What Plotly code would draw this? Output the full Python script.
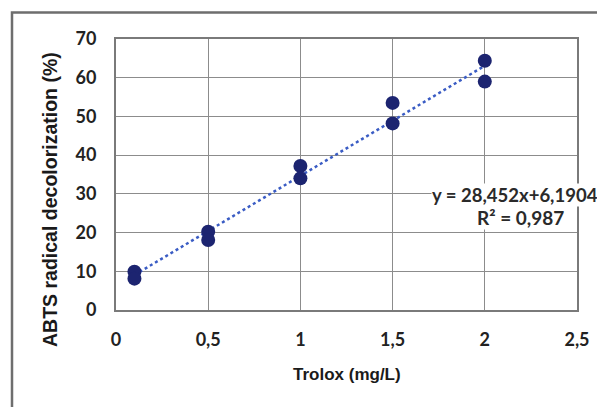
import plotly.graph_objects as go
import numpy as np

trolox = [0.1, 0.1, 0.5, 0.5, 1.0, 1.0, 1.5, 1.5, 2.0, 2.0]
decolor = [9.9, 8.1, 20.2, 18.1, 37.2, 34.0, 53.5, 48.2, 64.4, 59.0]
slope = 28.452
intercept = 6.1904
r2_text = "0,987"
x_ticks = [0, 0.5, 1, 1.5, 2, 2.5]
x_tick_text = ["0", "0,5", "1", "1,5", "2", "2,5"]
y_ticks = [0, 10, 20, 30, 40, 50, 60, 70]
x_title = "Trolox (mg/L)"
y_title = "ABTS radical decolorization (%)"

fit_x = np.array([min(trolox), max(trolox)])
fit_y = slope * fit_x + intercept

# layout geometry (figure pixels)
W, H = 605, 407
L, T, R, B = 108, 31, 36, 105
PW, PH = W - L - R, H - T - B


def px(x):
    return (x - L) / PW


def py(y):
    return (T + PH - y) / PH


fig = go.Figure()
fig.add_trace(go.Scatter(x=fit_x, y=fit_y, mode="lines",
                         line=dict(color="#3a5cc4", width=2.5, dash="dot"),
                         showlegend=False, hoverinfo="skip"))
fig.add_trace(go.Scatter(x=trolox, y=decolor, mode="markers",
                         marker=dict(color="#1c2470", size=14),
                         showlegend=False))

tickfont = dict(family="Lato", size=18, color="#222222", weight="bold")
fig.update_layout(
    width=W, height=H,
    margin=dict(l=L, r=R, t=T, b=B, autoexpand=False),
    paper_bgcolor="white", plot_bgcolor="white",
    xaxis=dict(range=[0, 2.5], tickvals=x_ticks, ticktext=x_tick_text,
               showgrid=True, gridcolor="#8c8c8c", gridwidth=1.2,
               showline=True, linecolor="#7a7a7a", linewidth=2, mirror=True,
               zeroline=False, ticks="", tickfont=tickfont, ticklabelstandoff=12),
    yaxis=dict(range=[0, 70], tickvals=y_ticks,
               showgrid=True, gridcolor="#8c8c8c", gridwidth=1.2,
               showline=True, linecolor="#7a7a7a", linewidth=2, mirror=True,
               zeroline=False, ticks="", tickfont=tickfont, ticklabelstandoff=14),
    shapes=[dict(type="rect", xref="paper", yref="paper",
                 x0=px(4), x1=px(W + 60), y0=py(H + 60), y1=py(4.5),
                 line=dict(color="#6e6e6e", width=2.5), fillcolor="rgba(0,0,0,0)", layer="below")],
    annotations=[
        dict(xref="paper", yref="paper", x=px(339), y=py(366), xanchor="center", yanchor="middle",
             text="<b>" + x_title + "</b>", showarrow=False,
             font=dict(family="Liberation Sans", size=17, color="#1a1a1a")),
        dict(xref="paper", yref="paper", x=px(42), y=py(192), xanchor="center", yanchor="middle",
             text="<b>" + y_title + "</b>", showarrow=False, textangle=-90,
             font=dict(family="Liberation Sans", size=19.5, color="#1a1a1a")),
        dict(xref="paper", yref="paper", x=px(423), y=py(187), xanchor="left", yanchor="middle",
             text="y = 28,452x+6,1904", showarrow=False, bgcolor="white", borderpad=0,
             font=dict(family="Lato", size=18.5, color="#2a2a2a", weight="bold")),
        dict(xref="paper", yref="paper", x=px(468), y=py(209), xanchor="left", yanchor="middle",
             text="R² = " + r2_text, showarrow=False, bgcolor="white", borderpad=0,
             font=dict(family="Lato", size=19, color="#2a2a2a", weight="bold")),
    ],
)
fig.write_html("out.html")
